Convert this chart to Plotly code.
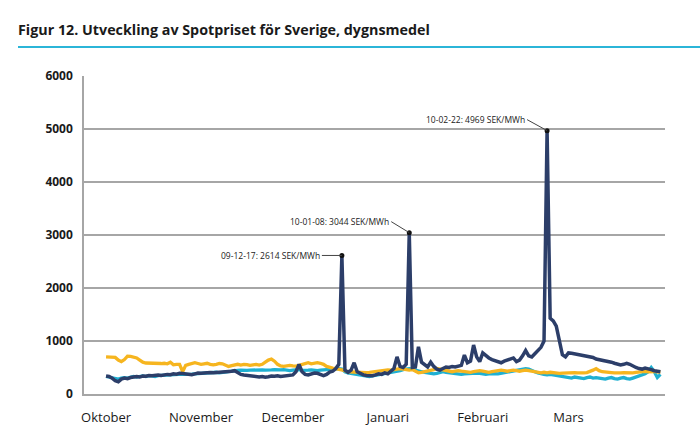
import pandas as pd
import plotly.graph_objects as go

dates = pd.date_range("2009-10-01", periods=182, freq="D")

spot_se = [
    340, 330, 300, 250, 230, 280, 300, 290, 310, 320,
    330, 320, 340, 335, 350, 345, 355, 360, 350, 365,
    370, 365, 380, 375, 390, 385, 375, 370, 365, 380,
    395, 390, 400, 395, 405, 400, 410, 405, 415, 420,
    420, 430, 440, 410, 370, 360, 350, 345, 340, 330,
    320, 330, 315, 325, 340, 335, 345, 330, 340, 350,
    345, 360, 420, 560, 420, 370, 360, 380, 395, 390,
    360, 345, 370, 415, 430, 480, 560, 2614, 450, 410,
    450, 590, 420, 380, 360, 350, 340, 345, 360, 380,
    370, 400, 380, 440, 480, 700, 520, 500, 560, 3044,
    500, 510, 890, 600, 560, 510, 600, 520, 470, 450,
    480, 510, 500, 520, 510, 520, 540, 735, 590, 620,
    925, 700, 610, 775, 720, 680, 650, 630, 610, 590,
    620, 640, 660, 680, 610, 640, 720, 820, 720, 700,
    760, 820, 880, 1000, 4969, 1430, 1380, 1280, 1000, 740,
    700, 775, 770, 760, 750, 740, 730, 720, 700, 690,
    660, 650, 640, 620, 610, 600, 580, 570, 550, 560,
    580, 560, 520, 500, 480, 470, 490, 480, 460, 440,
    430, 420,
]

system = [
    330, 320, 310, 290, 280, 300, 310, 300, 310, 330,
    320, 330, 340, 330, 345, 340, 330, 345, 350, 355,
    360, 355, 365, 370, 380, 375, 370, 365, 375, 380,
    385, 390, 395, 400, 395, 405, 410, 400, 410, 415,
    420, 430, 440, 445, 450, 440, 445, 450, 455, 445,
    450, 455, 450, 445, 455, 460, 450, 455, 460, 450,
    440, 450, 455, 460, 445, 440, 450, 455, 445, 440,
    450, 455, 460, 470, 480, 470, 480, 470, 420, 400,
    390, 380, 370, 360, 350, 340, 330, 340, 350, 360,
    370, 380, 390, 400, 420, 430, 440, 460, 470, 480,
    470, 450, 430, 420, 410, 400, 390, 380, 390, 400,
    420, 410, 400, 390, 380, 375, 370, 380, 385, 390,
    400, 395, 390, 380, 370, 380, 390, 385, 380, 390,
    400, 410, 420, 430, 440, 450, 460, 480, 470, 440,
    420, 400, 380, 370, 360, 370, 360, 350, 340, 330,
    320, 310, 300, 320, 310, 300, 290, 310, 320, 300,
    310, 300, 290, 280, 300, 310, 290, 280, 300, 310,
    290, 280, 300, 320, 340, 360, 380, 420, 500, 420,
    310, 370,
]

other = [
    700, 700, 695, 690, 640, 610, 650, 715, 710, 700,
    680, 640, 600, 585, 580, 590, 585, 580, 575, 580,
    570, 600, 550, 560, 560, 420, 540, 560, 580, 590,
    575, 560, 570, 580, 560, 550, 560, 575, 570, 540,
    520, 535, 550, 560, 545, 560, 555, 540, 550, 560,
    545, 560, 600, 640, 660, 620, 560, 530, 520, 530,
    540, 530, 525, 540, 560, 580, 590, 570, 585, 590,
    580, 560, 520, 500, 490, 480, 470, 460, 440, 420,
    415, 410, 420, 410, 400, 405, 410, 420, 430, 440,
    450, 460, 455, 450, 460, 470, 480, 470, 460, 450,
    460, 430, 400, 410, 420, 440, 450, 460, 480, 470,
    450, 440, 430, 420, 430, 440, 430, 420, 415, 410,
    420, 430, 440, 430, 420, 410, 420, 430, 440, 450,
    440, 430, 440, 450, 440, 430, 440, 450, 440, 430,
    420, 410, 400, 410, 400, 410, 400, 395, 390, 395,
    400, 395, 400, 405, 400, 395, 400, 405, 420, 450,
    480, 440, 420, 410, 400, 405, 400, 395, 400, 405,
    400, 395, 400, 410, 420, 430, 425, 420, 430, 425,
    420, 415,
]

month_ticks = ["2009-10-01", "2009-11-01", "2009-12-01", "2010-01-01", "2010-02-01", "2010-03-01"]
month_labels = ["Oktober", "November", "December", "Januari", "Februari", "Mars"]
y_ticks = [0, 1000, 2000, 3000, 4000, 5000, 6000]

peak_dates = pd.to_datetime(["2009-12-17", "2010-01-08", "2010-02-22"])
peak_values = [2614, 3044, 4969]
peak_offsets = [(-20, 0), (-18, -11), (-20, -11)]

fig = go.Figure()
fig.add_trace(go.Scatter(x=dates, y=system, mode="lines",
                         line=dict(color="#1fb0d2", width=3.3), hoverinfo="skip"))
fig.add_trace(go.Scatter(x=dates, y=other, mode="lines",
                         line=dict(color="#f6b51f", width=3.3), hoverinfo="skip"))
fig.add_trace(go.Scatter(x=dates, y=spot_se, mode="lines",
                         line=dict(color="#2c3e69", width=3.5), hoverinfo="skip"))
fig.add_trace(go.Scatter(x=peak_dates, y=peak_values, mode="markers",
                         marker=dict(color="#111111", size=5), hoverinfo="skip"))

for d, v, (ax, ay) in zip(peak_dates, peak_values, peak_offsets):
    fig.add_annotation(x=d, y=v, text=f"{d:%y-%m-%d}: {v} SEK/MWh",
                       showarrow=True, arrowhead=0, arrowwidth=1, arrowcolor="#444444",
                       ax=ax, ay=ay, xanchor="right", yanchor="middle",
                       font=dict(family="Open Sans", size=8.5, color="#1a1a1a"))

fig.update_layout(
    width=700, height=444,
    margin=dict(l=84, r=35, t=76, b=50),
    paper_bgcolor="white", plot_bgcolor="white",
    showlegend=False,
    title=dict(text="<b>Figur 12. Utveckling av Spotpriset för Sverige, dygnsmedel</b>",
               x=18 / 700, xanchor="left", xref="container",
               y=1 - 30 / 444, yanchor="middle", yref="container",
               font=dict(family="Open Sans", size=14.3, color="#1a1a1a")),
    xaxis=dict(type="date",
               range=[pd.Timestamp("2009-10-01") - pd.Timedelta(days=7.2),
                      pd.Timestamp("2009-10-01") + pd.Timedelta(days=182.5)],
               tickvals=month_ticks, ticktext=month_labels,
               showgrid=False, showline=True, linecolor="#a6a6a6", linewidth=1.5,
               ticks="", tickfont=dict(family="Open Sans", size=13, color="#1a1a1a"),
               ticklabelstandoff=11),
    yaxis=dict(range=[0, 6000], tickvals=y_ticks,
               ticktext=[f"<b>{t}</b>" for t in y_ticks],
               showgrid=True, gridcolor="#a6a6a6", gridwidth=1.5,
               showline=True, linecolor="#a6a6a6", linewidth=1.5,
               zeroline=False, ticks="",
               tickfont=dict(family="Open Sans", size=12, color="#1a1a1a"),
               ticklabelstandoff=7),
)

fig.add_shape(type="line", xref="paper", yref="paper",
              x0=(18 - 84) / 581, x1=(700 - 84) / 581,
              y0=(394 - 47) / 318, y1=(394 - 47) / 318,
              line=dict(color="#2bb5d8", width=2))

fig.write_html("out.html")
